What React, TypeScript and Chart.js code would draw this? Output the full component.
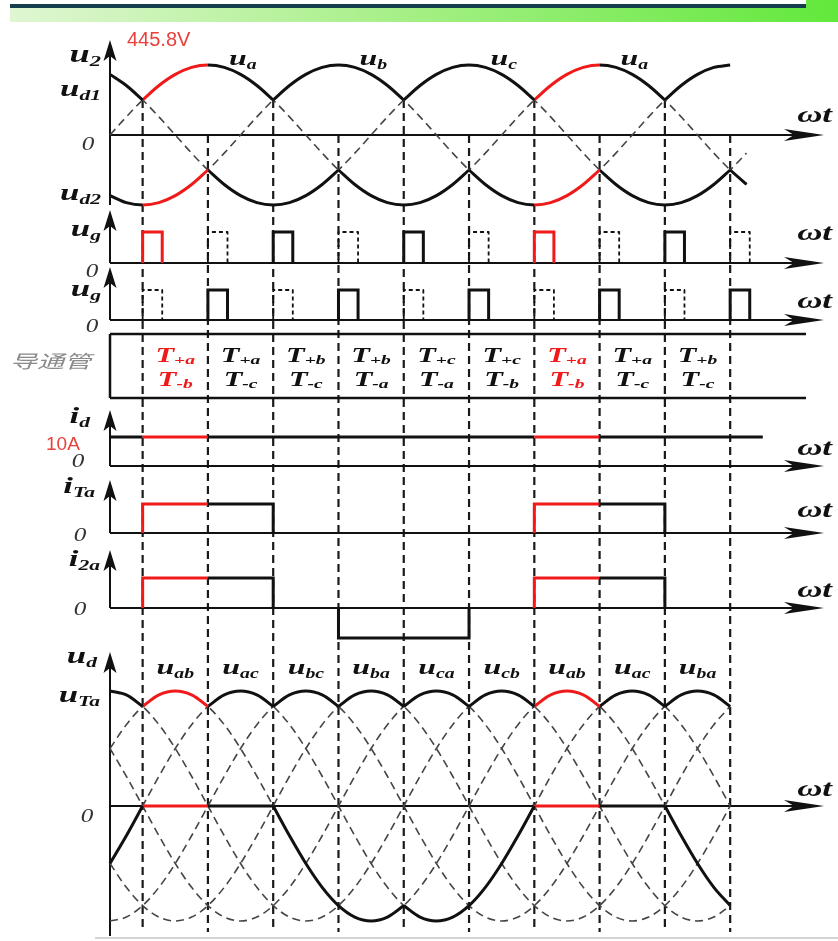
import React, { useEffect, useRef } from 'react';
import { Chart, registerables } from 'chart.js';

Chart.register(...registerables);

// ───────────────────────── data ─────────────────────────
// one period of the normalised phase voltage, read every 15° (0°, 15°, … 345°)
const STEP_DEG = 15;
const UNIT_WAVE = [
  0, 0.259, 0.5, 0.707, 0.866, 0.966, 1, 0.966, 0.866, 0.707, 0.5, 0.259,
  0, -0.259, -0.5, -0.707, -0.866, -0.966, -1, -0.966, -0.866, -0.707, -0.5, -0.259,
];
const PHASE_LAG_DEG = [0, 120, 240]; // ua, ub, uc
const PHASE_END_DEG = [585, 570, 585]; // where each dashed phase curve stops
const U2_PEAK_V = 445.8;
const ID_A = 10;

const UD1_BREAKS_DEG = [0, 30, 150, 270, 390, 510, 570];
const UD2_BREAKS_DEG = [0, 90, 210, 330, 450, 570, 585];
const UD_BREAKS_DEG = [0, 30, 90, 150, 210, 270, 330, 390, 450, 510, 570];
const LINE_END_DEG = 570;

const COMMUTATION_DEG = [30, 90, 150, 210, 270, 330, 390, 450, 510, 570];
const HIGHLIGHT_DEG = [[30, 90], [390, 450]];

const PHASE_LABELS = ['a', 'b', 'c', 'a'];
const PHASE_LABEL_DEG = [122, 242, 362, 482];
const LINE_PAIRS = [[0, 1], [0, 2], [1, 2], [1, 0], [2, 0], [2, 1]]; // uab uac ubc uba uca ucb
const LINE_LABELS = ['ab', 'ac', 'bc', 'ba', 'ca', 'cb', 'ab', 'ac', 'ba'];
const T_PLUS = ['+a', '+a', '+b', '+b', '+c', '+c', '+a', '+a', '+b'];
const T_MINUS = ['-b', '-c', '-c', '-a', '-a', '-b', '-b', '-c', '-c'];

const UG1_SOLID_DEG = [30, 150, 270, 390, 510];
const UG1_DASHED_DEG = [90, 210, 330, 450, 570];
const UG2_SOLID_DEG = [90, 210, 330, 450, 570];
const UG2_DASHED_DEG = [30, 150, 270, 390, 510];
const GATE_WIDTH_DEG = 18;
const GATE_LEVEL = 1;

const ID_END_DEG = 600;
const ITA_ON_DEG = [[30, 150], [390, 510]];
const I2A_POS_DEG = [[30, 150], [390, 510]];
const I2A_NEG_DEG = [[210, 330]];

// ───────────────────────── layout ─────────────────────────
const W = 838;
const H = 941;
const ORIGIN_X = 110;
const PX_PER_DEG = 1.088;
const AXIS_TIP_X = 824;
const TABLE_TOP = 334;
const TABLE_BOTTOM = 398;
const TABLE_RIGHT = 806;
const VLINE_BOTTOM = 932;

const PANELS: Record<string, { zero: number; unit: number; top: number; bottom: number }> = {
  u2: { zero: 135, unit: 70 / U2_PEAK_V, top: 40, bottom: 205 },
  ug1: { zero: 263, unit: 31, top: 210, bottom: 263 },
  ug2: { zero: 320, unit: 30, top: 267, bottom: 320 },
  id: { zero: 466, unit: 29 / ID_A, top: 410, bottom: 466 },
  ita: { zero: 533, unit: 29 / ID_A, top: 480, bottom: 533 },
  i2a: { zero: 608, unit: 30 / ID_A, top: 550, bottom: 608 },
  ud: { zero: 806, unit: 115 / (U2_PEAK_V * 1.732), top: 652, bottom: 936 },
};

const BLACK = '#111111';
const RED = '#f01a1a';
const DASH_COLOR = '#454545';
const SERIF = '"Liberation Serif", "Times New Roman", serif';
const STRETCH = 1.45;

// ───────────────────────── helpers ─────────────────────────
function wave(lag: number, deg: number): number {
  const n = UNIT_WAVE.length;
  const i = Math.round((deg - lag) / STEP_DEG);
  return UNIT_WAVE[((i % n) + n) % n];
}
function angles(a: number, b: number): number[] {
  const out: number[] = [];
  for (let d = a; d <= b + 1e-6; d += STEP_DEG) out.push(d);
  return out;
}
const phaseV = (p: number, d: number) => U2_PEAK_V * wave(PHASE_LAG_DEG[p], d);
const lineV = (l: number, d: number) => phaseV(LINE_PAIRS[l][0], d) - phaseV(LINE_PAIRS[l][1], d);
const inHighlight = (d: number) => HIGHLIGHT_DEG.some(([a, b]) => d >= a && d < b);
const argBest = (n: number, f: (i: number) => number, max: boolean) => {
  let best = 0;
  for (let i = 1; i < n; i++) if (max ? f(i) > f(best) : f(i) < f(best)) best = i;
  return best;
};

const highlightSegment = {
  borderColor: (ctx: any) => (inHighlight((ctx.p0.parsed.x + ctx.p1.parsed.x) / 2) ? RED : undefined),
};

function buildDatasets() {
  const ds: any[] = [];
  const solid = (data: any[], axis: string, extra: any = {}) =>
    ds.push({ data, yAxisID: axis, borderColor: BLACK, borderWidth: 3, tension: 1 / 3, segment: highlightSegment, order: 1, ...extra });
  const dashed = (data: any[], axis: string, extra: any = {}) =>
    ds.push({ data, yAxisID: axis, borderColor: DASH_COLOR, borderWidth: 1.6, borderDash: [8, 5], tension: 1 / 3, order: 10, ...extra });

  // phase voltages (dashed) and ud1 / ud2 envelopes
  for (let p = 0; p < 3; p++) dashed(angles(0, PHASE_END_DEG[p]).map((d) => ({ x: d, y: phaseV(p, d) })), 'u2');
  for (let k = 0; k < UD1_BREAKS_DEG.length - 1; k++) {
    const a = UD1_BREAKS_DEG[k], b = UD1_BREAKS_DEG[k + 1];
    const m = a + STEP_DEG;
    const p = argBest(3, (i) => phaseV(i, m), true);
    solid(angles(a, b).map((d) => ({ x: d, y: phaseV(p, d) })), 'u2');
  }
  for (let k = 0; k < UD2_BREAKS_DEG.length - 1; k++) {
    const a = UD2_BREAKS_DEG[k], b = UD2_BREAKS_DEG[k + 1];
    const m = a + STEP_DEG;
    const p = argBest(3, (i) => phaseV(i, m), false);
    solid(angles(a, b).map((d) => ({ x: d, y: phaseV(p, d) })), 'u2');
  }

  // gate pulses
  const pulse = (s: number, axis: string, isSolid: boolean) => {
    const data = [
      { x: s, y: 0 }, { x: s, y: GATE_LEVEL }, { x: s + GATE_WIDTH_DEG, y: GATE_LEVEL }, { x: s + GATE_WIDTH_DEG, y: 0 },
    ];
    if (isSolid) solid(data, axis, { tension: 0, borderJoinStyle: 'miter' });
    else dashed(data, axis, { tension: 0, borderColor: BLACK, borderWidth: 1.8, borderDash: [4, 3] });
  };
  UG1_SOLID_DEG.forEach((s) => pulse(s, 'ug1', true));
  UG1_DASHED_DEG.forEach((s) => pulse(s, 'ug1', false));
  UG2_SOLID_DEG.forEach((s) => pulse(s, 'ug2', true));
  UG2_DASHED_DEG.forEach((s) => pulse(s, 'ug2', false));

  // id
  solid([0, ...COMMUTATION_DEG, ID_END_DEG].map((d) => ({ x: d, y: ID_A })), 'id', { tension: 0 });
  // iTa
  ITA_ON_DEG.forEach(([a, b]) =>
    solid([{ x: a, y: 0 }, { x: a, y: ID_A }, { x: a + 60, y: ID_A }, { x: b, y: ID_A }, { x: b, y: 0 }], 'ita', { tension: 0, borderJoinStyle: 'miter' }));
  // i2a
  I2A_POS_DEG.forEach(([a, b]) =>
    solid([{ x: a, y: 0 }, { x: a, y: ID_A }, { x: a + 60, y: ID_A }, { x: b, y: ID_A }, { x: b, y: 0 }], 'i2a', { tension: 0, borderJoinStyle: 'miter' }));
  I2A_NEG_DEG.forEach(([a, b]) =>
    solid([{ x: a, y: 0 }, { x: a, y: -ID_A }, { x: b, y: -ID_A }, { x: b, y: 0 }], 'i2a', { tension: 0, borderJoinStyle: 'miter' }));

  // line voltages (dashed), ud envelope, uTa
  for (let l = 0; l < LINE_PAIRS.length; l++) dashed(angles(0, LINE_END_DEG).map((d) => ({ x: d, y: lineV(l, d) })), 'ud');
  for (let k = 0; k < UD_BREAKS_DEG.length - 1; k++) {
    const a = UD_BREAKS_DEG[k], b = UD_BREAKS_DEG[k + 1];
    const m = a + STEP_DEG;
    const l = argBest(6, (i) => lineV(i, m), true);
    solid(angles(a, b).map((d) => ({ x: d, y: lineV(l, d) })), 'ud');
  }
  for (let k = 0; k < UD1_BREAKS_DEG.length - 1; k++) {
    const a = UD1_BREAKS_DEG[k], b = UD1_BREAKS_DEG[k + 1];
    const m = a + STEP_DEG;
    const p = argBest(3, (i) => phaseV(i, m), true);
    solid(angles(a, b).map((d) => ({ x: d, y: phaseV(0, d) - phaseV(p, d) })), 'ud');
  }
  return ds;
}

// ───────────────────────── drawing helpers ─────────────────────────
function sym(ctx: CanvasRenderingContext2D, main: string, sub: string, x: number, y: number, size: number,
  align: 'left' | 'right' | 'center' = 'left', color = BLACK, subSize = size * 0.62, subDy = size * 0.16) {
  ctx.save();
  ctx.font = `italic bold ${size}px ${SERIF}`;
  const wm = ctx.measureText(main).width;
  ctx.font = `italic bold ${subSize}px ${SERIF}`;
  const ws = sub ? ctx.measureText(sub).width : 0;
  const total = (wm + ws) * STRETCH;
  const x0 = align === 'right' ? x - total : align === 'center' ? x - total / 2 : x;
  ctx.translate(x0, y);
  ctx.scale(STRETCH, 1);
  ctx.fillStyle = color;
  ctx.textAlign = 'left';
  ctx.textBaseline = 'alphabetic';
  ctx.font = `italic bold ${size}px ${SERIF}`;
  ctx.fillText(main, 0, 0);
  if (sub) {
    ctx.font = `italic bold ${subSize}px ${SERIF}`;
    ctx.fillText(sub, wm, subDy);
  }
  ctx.restore();
}

function plainText(ctx: CanvasRenderingContext2D, t: string, x: number, y: number, font: string, color: string,
  align: CanvasTextAlign = 'left', stretch = 1) {
  ctx.save();
  ctx.font = font;
  ctx.fillStyle = color;
  ctx.textBaseline = 'alphabetic';
  const w = ctx.measureText(t).width * stretch;
  const x0 = align === 'right' ? x - w : align === 'center' ? x - w / 2 : x;
  ctx.translate(x0, y);
  ctx.scale(stretch, 1);
  ctx.textAlign = 'left';
  ctx.fillText(t, 0, 0);
  ctx.restore();
}

function upArrow(ctx: CanvasRenderingContext2D, x: number, tip: number) {
  ctx.beginPath();
  ctx.moveTo(x, tip);
  ctx.lineTo(x + 6.5, tip + 21);
  ctx.lineTo(x, tip + 16);
  ctx.lineTo(x - 6.5, tip + 21);
  ctx.closePath();
  ctx.fill();
}
function rightArrow(ctx: CanvasRenderingContext2D, tip: number, y: number) {
  ctx.beginPath();
  ctx.moveTo(tip, y);
  ctx.lineTo(tip - 40, y - 6);
  ctx.lineTo(tip - 30, y);
  ctx.lineTo(tip - 40, y + 6);
  ctx.closePath();
  ctx.fill();
}

const decorPlugin = {
  id: 'decor',
  beforeDraw(chart: any) {
    const ctx: CanvasRenderingContext2D = chart.ctx;
    ctx.save();
    ctx.fillStyle = '#ffffff';
    ctx.fillRect(0, 0, W, H);
    const g = ctx.createLinearGradient(10, 0, W, 0);
    g.addColorStop(0, '#dff6d2');
    g.addColorStop(0.45, '#a9f08a');
    g.addColorStop(1, '#62e83c');
    ctx.fillStyle = g;
    ctx.fillRect(10, 7, W - 10, 15);
    ctx.fillRect(806, 0, W - 806, 22);
    ctx.fillStyle = '#133f4d';
    ctx.fillRect(10, 4, 796, 4);
    ctx.fillStyle = '#d4d4d4';
    ctx.fillRect(95, 937, W - 95, 2);
    ctx.restore();
  },
  beforeDatasetsDraw(chart: any) {
    const ctx: CanvasRenderingContext2D = chart.ctx;
    const xs = chart.scales.x;
    const u2 = chart.scales.u2;
    const x0 = xs.getPixelForValue(0);
    ctx.save();
    // vertical dashed commutation lines
    ctx.strokeStyle = '#1a1a1a';
    ctx.lineWidth = 2.2;
    ctx.setLineDash([8, 5]);
    COMMUTATION_DEG.forEach((d, i) => {
      const x = xs.getPixelForValue(d);
      const topV = i % 2 === 0 ? Math.max(phaseV(0, d), phaseV(1, d), phaseV(2, d)) : 0;
      ctx.beginPath();
      ctx.moveTo(x, u2.getPixelForValue(topV));
      ctx.lineTo(x, VLINE_BOTTOM);
      ctx.stroke();
    });
    ctx.setLineDash([]);
    // axes
    ctx.strokeStyle = BLACK;
    ctx.fillStyle = BLACK;
    ctx.lineWidth = 2;
    Object.keys(PANELS).forEach((k) => {
      const P = PANELS[k];
      const y0 = chart.scales[k].getPixelForValue(0);
      ctx.beginPath();
      ctx.moveTo(x0, P.top + 10);
      ctx.lineTo(x0, P.bottom);
      ctx.moveTo(x0, y0);
      ctx.lineTo(AXIS_TIP_X - 20, y0);
      ctx.stroke();
      upArrow(ctx, x0, P.top);
      rightArrow(ctx, AXIS_TIP_X, y0);
    });
    // conducting-device table frame
    ctx.lineWidth = 2.5;
    ctx.beginPath();
    ctx.moveTo(x0, TABLE_TOP);
    ctx.lineTo(TABLE_RIGHT, TABLE_TOP);
    ctx.moveTo(x0, TABLE_BOTTOM);
    ctx.lineTo(TABLE_RIGHT, TABLE_BOTTOM);
    ctx.moveTo(x0, TABLE_TOP);
    ctx.lineTo(x0, TABLE_BOTTOM);
    ctx.stroke();
    ctx.restore();
  },
  afterDatasetsDraw(chart: any) {
    const ctx: CanvasRenderingContext2D = chart.ctx;
    const xs = chart.scales.x;
    // left labels
    sym(ctx, 'u', '2', 101, 62, 25, 'right');
    sym(ctx, 'u', 'd1', 101, 96, 24, 'right');
    sym(ctx, 'u', 'd2', 101, 200, 24, 'right');
    sym(ctx, 'u', 'g', 101, 236, 24, 'right');
    sym(ctx, 'u', 'g', 101, 296, 24, 'right');
    sym(ctx, 'i', 'd', 90, 423, 24, 'right');
    sym(ctx, 'i', 'Ta', 95, 493, 24, 'right');
    sym(ctx, 'i', '2a', 100, 566, 24, 'right');
    sym(ctx, 'u', 'd', 97, 663, 24, 'right');
    sym(ctx, 'u', 'Ta', 100, 702, 24, 'right');
    // zeros
    const zeroFont = `italic 18px ${SERIF}`;
    [[88, 150], [92, 277], [92, 332], [78, 467], [80, 541], [80, 615], [87, 822]].forEach(([x, y]) =>
      plainText(ctx, '0', x, y, zeroFont, '#333', 'center', 1.4));
    // ωt labels
    [122, 240, 308, 455, 517, 597, 796].forEach((y) => sym(ctx, 'ωt', '', 832, y, 24, 'right'));
    // phase labels
    PHASE_LABELS.forEach((p, i) => sym(ctx, 'u', p, xs.getPixelForValue(PHASE_LABEL_DEG[i]), 65, 22, 'center'));
    // line labels
    LINE_LABELS.forEach((l, i) => {
      const c = (COMMUTATION_DEG[i] + COMMUTATION_DEG[i + 1]) / 2;
      sym(ctx, 'u', l, xs.getPixelForValue(c), 674, 22, 'center');
    });
    // conducting devices
    T_PLUS.forEach((t, i) => {
      const c = (COMMUTATION_DEG[i] + COMMUTATION_DEG[i + 1]) / 2;
      const col = inHighlight(c) ? RED : BLACK;
      sym(ctx, 'T', t, xs.getPixelForValue(c), 362, 21, 'center', col, 13.5, 2);
      sym(ctx, 'T', T_MINUS[i], xs.getPixelForValue(c), 386, 21, 'center', col, 13.5, 2);
    });
    plainText(ctx, '导通管', 10, 368, `italic 18px "Noto Sans CJK SC"`, '#8a8a8a', 'left', 1.5);
    // red annotations
    plainText(ctx, `${U2_PEAK_V}V`, 127, 46, `20px "Liberation Sans", Arial, sans-serif`, '#e8413b');
    plainText(ctx, `${ID_A}A`, 46, 450, `19px "Liberation Sans", Arial, sans-serif`, '#e8413b');
  },
};

export default function App() {
  const ref = useRef<HTMLCanvasElement | null>(null);
  useEffect(() => {
    if (!ref.current) return;
    const scales: any = {
      x: {
        type: 'linear', display: false, bounds: 'data',
        min: -ORIGIN_X / PX_PER_DEG, max: (W - ORIGIN_X) / PX_PER_DEG,
      },
    };
    Object.keys(PANELS).forEach((k) => {
      const P = PANELS[k];
      scales[k] = { type: 'linear', display: false, bounds: 'data', min: (P.zero - H) / P.unit, max: P.zero / P.unit };
    });
    const chart = new Chart(ref.current, {
      type: 'line',
      data: { datasets: buildDatasets() },
      options: {
        animation: false,
        responsive: false,
        events: [],
        layout: { padding: 0 },
        elements: { point: { radius: 0 }, line: { borderCapStyle: 'butt', borderJoinStyle: 'round' } },
        plugins: { legend: { display: false }, tooltip: { enabled: false }, title: { display: false } },
        scales,
      } as any,
      plugins: [decorPlugin as any],
    });
    return () => chart.destroy();
  }, []);
  return (
    <div style={{ position: 'absolute', left: 0, top: 0, width: W, height: H, background: '#fff' }}>
      <canvas ref={ref} width={W} height={H} style={{ display: 'block', width: W, height: H }} />
    </div>
  );
}
